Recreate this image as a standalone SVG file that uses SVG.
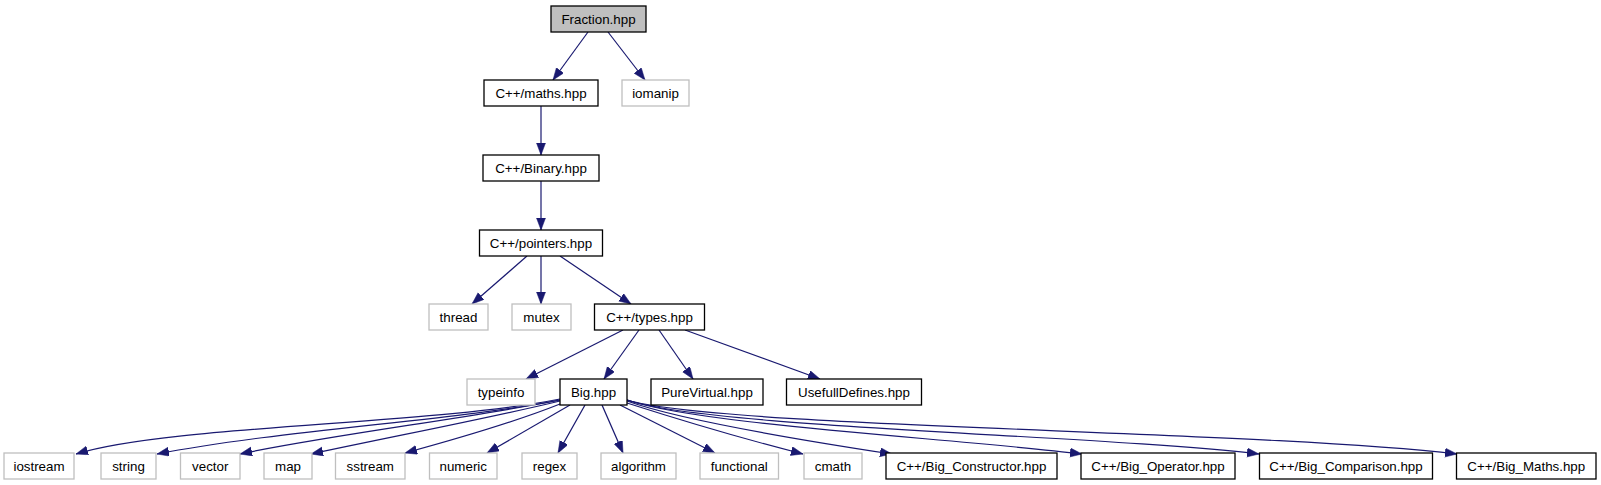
<svg xmlns="http://www.w3.org/2000/svg" width="1601" height="485" viewBox="0 0 1601 485">
<style>
.n rect{fill:#fff;stroke:#000;stroke-width:1.3}
.n.g rect{stroke:#bfbfbf}
.n.r rect{fill:#bfbfbf}
.n text{font-family:"Liberation Sans",Arial,sans-serif;font-size:13.33px;fill:#000;text-anchor:middle}
.e path{fill:none;stroke:#191970;stroke-width:1.2;marker-end:url(#ah)}
</style>
<defs>
<marker id="ah" markerUnits="userSpaceOnUse" markerWidth="13" markerHeight="10" refX="12" refY="4.5" orient="auto">
<path d="M0,0 L12,4.5 L0,9 z" fill="#191970" stroke="#191970" stroke-width="0.5"/>
</marker>
</defs>
<g id="connectors" class="e">
<path d="M588,32 L553,80"/>
<path d="M608,32 L645,80"/>
<path d="M541,106 L541,155"/>
<path d="M541,181 L541,230"/>
<path d="M527,256 L472,304"/>
<path d="M541,256 L541,304"/>
<path d="M560,256 L631,304"/>
<path d="M623,330 L526,379"/>
<path d="M639,330 L604,379"/>
<path d="M659,330 L693,379"/>
<path d="M685,330 L820,379"/>
<path d="M560,399 C430,425 170,425 76,454"/>
<path d="M560,400 C460,420 280,430 157,454"/>
<path d="M560,400 C470,418 330,435 240,454"/>
<path d="M560,401 C490,418 400,435 311,454"/>
<path d="M560,404 C520,420 460,438 405,453"/>
<path d="M570,405 L487,453"/>
<path d="M585,405 L558,453"/>
<path d="M602,405 L623,453"/>
<path d="M620,405 L715,453"/>
<path d="M627,403 C680,420 740,438 803,454"/>
<path d="M627,401 C680,420 800,440 892,454"/>
<path d="M627,400 C700,425 950,438 1082,454"/>
<path d="M627,400 C710,428 1100,435 1259,454"/>
<path d="M627,400 C720,428 1250,430 1457,454"/>
</g>
<g id="n_fraction" class="n r"><rect x="551" y="6" width="95" height="26"/><text x="598.5" y="23.5">Fraction.hpp</text></g>
<g id="n_maths" class="n"><rect x="484" y="80" width="114" height="26"/><text x="541" y="97.5">C++/maths.hpp</text></g>
<g id="n_iomanip" class="n g"><rect x="622" y="80" width="67" height="26"/><text x="655.5" y="97.5">iomanip</text></g>
<g id="n_binary" class="n"><rect x="483" y="155" width="116" height="26"/><text x="541" y="172.5">C++/Binary.hpp</text></g>
<g id="n_pointers" class="n"><rect x="479.5" y="230" width="123" height="26"/><text x="541" y="247.5">C++/pointers.hpp</text></g>
<g id="n_thread" class="n g"><rect x="429" y="304" width="59" height="26"/><text x="458.5" y="321.5">thread</text></g>
<g id="n_mutex" class="n g"><rect x="512" y="304" width="59" height="26"/><text x="541.5" y="321.5">mutex</text></g>
<g id="n_types" class="n"><rect x="594.5" y="304" width="110" height="26"/><text x="649.5" y="321.5">C++/types.hpp</text></g>
<g id="n_typeinfo" class="n g"><rect x="467" y="379" width="68" height="26"/><text x="501" y="396.5">typeinfo</text></g>
<g id="n_big" class="n"><rect x="560" y="379" width="67" height="26"/><text x="593.5" y="396.5">Big.hpp</text></g>
<g id="n_purevirtual" class="n"><rect x="651" y="379" width="112" height="26"/><text x="707" y="396.5">PureVirtual.hpp</text></g>
<g id="n_usefulldefines" class="n"><rect x="786.5" y="379" width="135" height="26"/><text x="854" y="396.5">UsefullDefines.hpp</text></g>
<g id="n_iostream" class="n g"><rect x="4" y="453" width="70" height="26"/><text x="39" y="470.5">iostream</text></g>
<g id="n_string" class="n g"><rect x="101" y="453" width="55" height="26"/><text x="128.5" y="470.5">string</text></g>
<g id="n_vector" class="n g"><rect x="180.5" y="453" width="59.5" height="26"/><text x="210.25" y="470.5">vector</text></g>
<g id="n_map" class="n g"><rect x="264" y="453" width="48" height="26"/><text x="288" y="470.5">map</text></g>
<g id="n_sstream" class="n g"><rect x="335.5" y="453" width="69.5" height="26"/><text x="370.25" y="470.5">sstream</text></g>
<g id="n_numeric" class="n g"><rect x="429.5" y="453" width="67.5" height="26"/><text x="463.25" y="470.5">numeric</text></g>
<g id="n_regex" class="n g"><rect x="522" y="453" width="55" height="26"/><text x="549.5" y="470.5">regex</text></g>
<g id="n_algorithm" class="n g"><rect x="601" y="453" width="75" height="26"/><text x="638.5" y="470.5">algorithm</text></g>
<g id="n_functional" class="n g"><rect x="700" y="453" width="78.5" height="26"/><text x="739.25" y="470.5">functional</text></g>
<g id="n_cmath" class="n g"><rect x="804" y="453" width="58" height="26"/><text x="833" y="470.5">cmath</text></g>
<g id="n_bigconstructor" class="n"><rect x="886" y="453" width="171" height="26"/><text x="971.5" y="470.5">C++/Big_Constructor.hpp</text></g>
<g id="n_bigoperator" class="n"><rect x="1081" y="453" width="154" height="26"/><text x="1158" y="470.5">C++/Big_Operator.hpp</text></g>
<g id="n_bigcomparison" class="n"><rect x="1259.5" y="453" width="173" height="26"/><text x="1346" y="470.5">C++/Big_Comparison.hpp</text></g>
<g id="n_bigmaths" class="n"><rect x="1456.5" y="453" width="139.5" height="26"/><text x="1526.25" y="470.5">C++/Big_Maths.hpp</text></g>
</svg>
